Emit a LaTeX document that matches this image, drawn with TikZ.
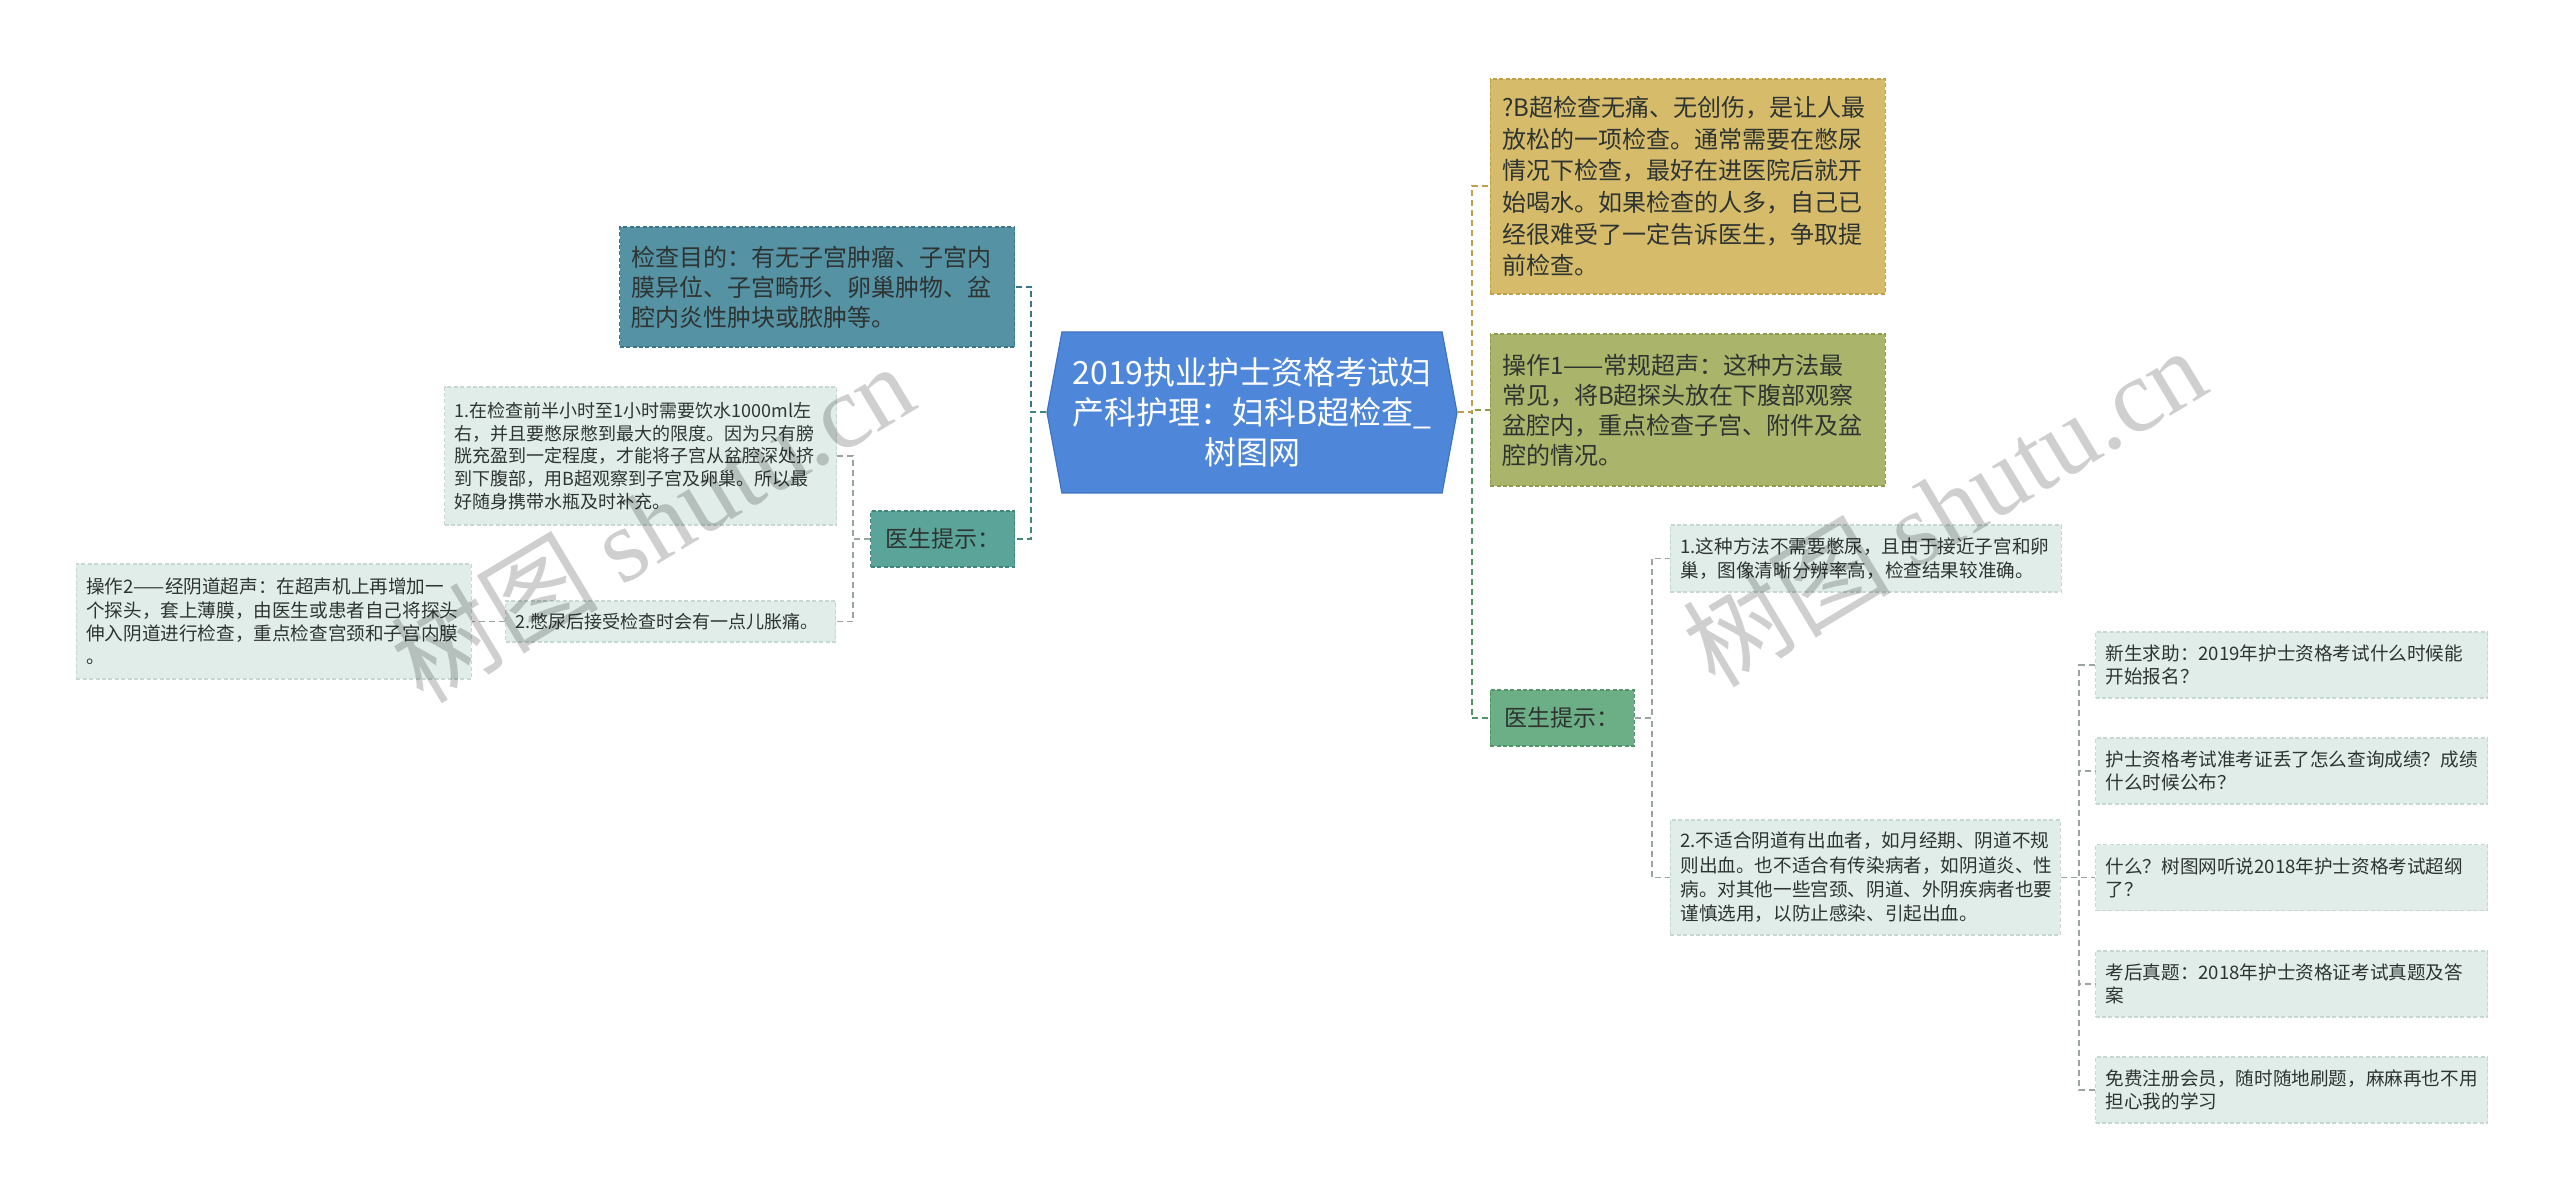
\documentclass[tikz,border=0pt]{standalone}
\usepackage{fontspec}
\setmainfont{Noto Sans CJK SC}
\newfontfamily\wmfont{Liberation Serif}
\usetikzlibrary{positioning,shapes.symbols}

\definecolor{ink}{HTML}{2E3432}
\definecolor{rootfill}{HTML}{4E87D9}
\definecolor{rootline}{HTML}{3F72C2}
\definecolor{goalfill}{HTML}{5492A4}
\definecolor{goalline}{HTML}{3C7587}
\definecolor{ltipfill}{HTML}{5AA499}
\definecolor{ltipline}{HTML}{3F867B}
\definecolor{rtopfill}{HTML}{D6BC6A}
\definecolor{rtopline}{HTML}{BFA04A}
\definecolor{ropfill}{HTML}{AAB46A}
\definecolor{ropline}{HTML}{8F9A50}
\definecolor{rtipfill}{HTML}{6CAE85}
\definecolor{rtipline}{HTML}{52936A}
\definecolor{leaffill}{HTML}{E0EDE8}
\definecolor{leafline}{HTML}{C7D8D2}
\definecolor{linkgrey}{HTML}{9AA5A2}

\tikzset{
  box/.style={draw, dash pattern=on 2pt off 1.2pt, line width=0.6pt,
    align=left, inner ysep=0pt, text=ink},
  bigbox/.style={box, inner xsep=6pt, text width=185.5pt,
    font=\fontsize{12pt}{15pt}\selectfont},
  tipbox/.style={box, align=center, inner xsep=0pt, minimum width=72pt,
    minimum height=28pt, font=\fontsize{11.5pt}{14pt}\selectfont},
  leaf/.style={box, fill=leaffill, draw=leafline, inner xsep=5pt,
    font=\fontsize{9.3pt}{12pt}\selectfont},
  item/.style={leaf, text width=186pt, minimum height=33pt,
    font=\fontsize{9.3pt}{11.5pt}\selectfont},
  link/.style={dash pattern=on 3pt off 2pt, line width=1pt},
  sublink/.style={dash pattern=on 3pt off 2pt, line width=0.8pt, linkgrey},
  watermark/.style={text=black, text opacity=0.19, rotate=31,
    font=\fontsize{52pt}{52pt}\selectfont}
}

\begin{document}
\begin{tikzpicture}
  \useasboundingbox[fill=white] (0,0) rectangle (1280pt,-601.5pt);

  \node (root) [signal, signal to=west and east, signal pointer angle=159,
    minimum width=205pt, minimum height=80.5pt, inner sep=0pt,
    fill=rootfill, draw=rootline, line width=0.6pt, text=white, align=center,
    font=\fontsize{16pt}{20pt}\selectfont] at (626pt,-206.25pt)
    {2019执业护士资格考试妇\\产科护理：妇科B超检查\_\\树图网};

  % left side
  \node (goal) [bigbox, fill=goalfill, draw=goalline, minimum height=60pt,
    left=15.5pt of root.west, yshift=62.75pt]
    {检查目的：有无子宫肿瘤、子宫内\\膜异位、子宫畸形、卵巢肿物、盆\\腔内炎性肿块或脓肿等。};
  \node (ltip) [tipbox, fill=ltipfill, draw=ltipline,
    left=15.5pt of root.west, yshift=-63.25pt] {医生提示：};
  \node (lleaf1) [leaf, text width=186pt, minimum height=69pt,
    font=\fontsize{9pt}{11.4pt}\selectfont,
    left=16.5pt of ltip.west, yshift=41.5pt]
    {1.在检查前半小时至1小时需要饮水1000ml左\\右，并且要憋尿憋到最大的限度。因为只有膀\\胱充盈到一定程度，才能将子宫从盆腔深处挤\\到下腹部，用B超观察到子宫及卵巢。所以最\\好随身携带水瓶及时补充。};
  \node (lleaf2) [leaf, text width=155pt, minimum height=20.5pt,
    font=\fontsize{9pt}{11.4pt}\selectfont,
    left=17pt of ltip.west, yshift=-41.25pt]
    {2.憋尿后接受检查时会有一点儿胀痛。};
  \node (lop2) [leaf, text width=187.5pt, minimum height=57.5pt,
    font=\fontsize{9.3pt}{11.7pt}\selectfont, left=16.5pt of lleaf2.west]
    {操作2——经阴道超声：在超声机上再增加一\\个探头，套上薄膜，由医生或患者自己将探头\\伸入阴道进行检查，重点检查宫颈和子宫内膜\\。};

  % right side
  \node (rtop) [bigbox, fill=rtopfill, draw=rtopline, minimum height=107.5pt,
    font=\fontsize{12pt}{15.8pt}\selectfont,
    right=16pt of root.east, yshift=113pt]
    {?B超检查无痛、无创伤，是让人最\\放松的一项检查。通常需要在憋尿\\情况下检查，最好在进医院后就开\\始喝水。如果检查的人多，自己已\\经很难受了一定告诉医生，争取提\\前检查。};
  \node (rop1) [bigbox, fill=ropfill, draw=ropline, minimum height=76pt,
    right=16pt of root.east, yshift=1.25pt]
    {操作1——常规超声：这种方法最\\常见，将B超探头放在下腹部观察\\盆腔内，重点检查子宫、附件及盆\\腔的情况。};
  \node (rtip) [tipbox, fill=rtipfill, draw=rtipline,
    right=16pt of root.east, yshift=-152.75pt] {医生提示：};
  \node (rleaf1) [leaf, text width=185.5pt, minimum height=33.5pt,
    right=17.5pt of rtip.east, yshift=79.75pt]
    {1.这种方法不需要憋尿，且由于接近子宫和卵\\巢，图像清晰分辨率高，检查结果较准确。};
  \node (rleaf2) [leaf, text width=185pt, minimum height=57.5pt,
    font=\fontsize{9.3pt}{12.2pt}\selectfont,
    right=17.5pt of rtip.east, yshift=-79.75pt]
    {2.不适合阴道有出血者，如月经期、阴道不规\\则出血。也不适合有传染病者，如阴道炎、性\\病。对其他一些宫颈、阴道、外阴疾病者也要\\谨慎选用，以防止感染、引起出血。};

  \node (item1) [item, right=17pt of rleaf2.east, yshift=106.25pt]
    {新生求助：2019年护士资格考试什么时候能\\开始报名？};
  \node (item2) [item, right=17pt of rleaf2.east, yshift=53.25pt]
    {护士资格考试准考证丢了怎么查询成绩？成绩\\什么时候公布？};
  \node (item3) [item, right=17pt of rleaf2.east]
    {什么？树图网听说2018年护士资格考试超纲\\了？};
  \node (item4) [item, right=17pt of rleaf2.east, yshift=-53.25pt]
    {考后真题：2018年护士资格证考试真题及答\\案};
  \node (item5) [item, right=17pt of rleaf2.east, yshift=-106.25pt]
    {免费注册会员，随时随地刷题，麻麻再也不用\\担心我的学习};

  % connectors
  \draw[link, goalline] (root.west) -- ++(-7.5pt,0) |- (goal.east);
  \draw[link, ltipline] (root.west) -- ++(-7.5pt,0) |- (ltip.east);
  \draw[sublink] (ltip.west) -- ++(-8.5pt,0) |- (lleaf1.east);
  \draw[sublink] (ltip.west) -- ++(-8.5pt,0) |- (lleaf2.east);
  \draw[sublink] (lleaf2.west) -- (lop2.east);

  \draw[link, rtipline] (root.east) -- ++(7pt,0) |- (rtip.west);
  \draw[link, ropline] (root.east) -- ++(7pt,0) |- (rop1.west);
  \draw[link, rtopline] (root.east) -- ++(7pt,0) |- (rtop.west);
  \draw[sublink] (rtip.east) -- ++(8.5pt,0) |- (rleaf1.west);
  \draw[sublink] (rtip.east) -- ++(8.5pt,0) |- (rleaf2.west);
  \foreach \i in {1,...,5}
    \draw[sublink] (rleaf2.east) -- ++(9pt,0) |- (item\i.west);

  % watermarks
  \node (wmleft) [watermark] at (326pt,-261pt) {树图 {\wmfont shutu.cn}};
  \node (wmright) [watermark] at (972pt,-253pt) {树图 {\wmfont shutu.cn}};
\end{tikzpicture}
\end{document}
